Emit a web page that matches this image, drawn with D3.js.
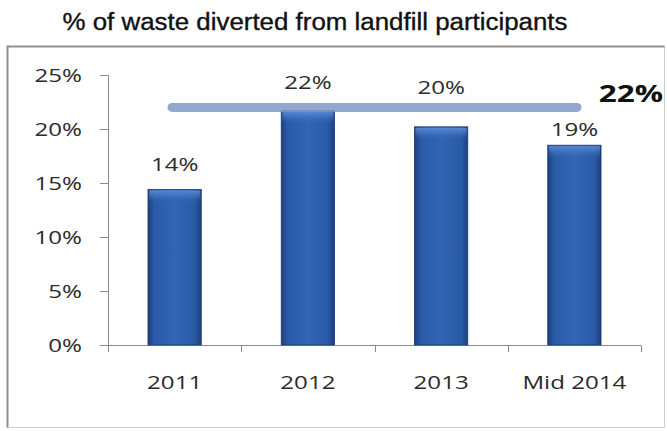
<!DOCTYPE html>
<html>
<head>
<meta charset="utf-8">
<script src="https://cdn.jsdelivr.net/npm/d3@7"></script>
<style>
  html, body { margin: 0; padding: 0; background: #ffffff; }
  svg { display: block; }
</style>
</head>
<body>
<svg id="chart" width="667" height="431"></svg>
<script>
// ---- data ----
const title = "% of waste diverted from landfill participants";
const categories = ["2011", "2012", "2013", "Mid 2014"];
const values = [14.4, 21.7, 20.2, 18.5];
const valueLabels = ["14%", "22%", "20%", "19%"];
const yTicks = [0, 5, 10, 15, 20, 25];
const averageValue = 22;
const averageLabel = "22%";

// ---- styling (not data) ----
const labelGap = [18, 22, 33, 9]; // px between bar top and label baseline
const stretch = 1.34;             // horizontal stretch of the source image's text
const font = "'Open Sans', sans-serif";
const textColor = "#2b2b2b";

const svg = d3.select("#chart");
const W = 667, H = 431;
svg.append("rect").attr("width", W).attr("height", H).attr("fill", "#fff");

const defs = svg.append("defs");
const g1 = defs.append("linearGradient").attr("id", "barGrad").attr("x1", 0).attr("x2", 1).attr("y1", 0).attr("y2", 0);
g1.append("stop").attr("offset", "0%").attr("stop-color", "#1c3f7c");
g1.append("stop").attr("offset", "12%").attr("stop-color", "#2a5aa6");
g1.append("stop").attr("offset", "50%").attr("stop-color", "#3066b5");
g1.append("stop").attr("offset", "88%").attr("stop-color", "#2a5aa6");
g1.append("stop").attr("offset", "100%").attr("stop-color", "#1c3f7c");
const g2 = defs.append("linearGradient").attr("id", "topGrad").attr("x1", 0).attr("x2", 0).attr("y1", 0).attr("y2", 1);
g2.append("stop").attr("offset", "0%").attr("stop-color", "#5d8fd8").attr("stop-opacity", 0.9);
g2.append("stop").attr("offset", "100%").attr("stop-color", "#3a6fc0").attr("stop-opacity", 0);

// frame
svg.append("rect").attr("x", 7.5).attr("y", 46.5).attr("width", 657).attr("height", 381)
  .attr("fill", "#fff").attr("stroke", "#cfcfcf").attr("stroke-width", 1);
svg.append("path").attr("d", "M7.5,427.5 V46.5 H664.5")
  .attr("fill", "none").attr("stroke", "#8f8f8f").attr("stroke-width", 2);

// title
svg.append("text").attr("x", 315).attr("y", 30).attr("text-anchor", "middle")
  .attr("font-family", "'Liberation Sans', Arial, sans-serif").attr("font-size", 23)
  .attr("textLength", 505).attr("lengthAdjust", "spacingAndGlyphs")
  .attr("fill", "#111").attr("stroke", "#111").attr("stroke-width", 0.35).text(title);

// scales
const x = d3.scaleBand().domain(categories).range([108, 641]).paddingInner(0.6).paddingOuter(0.3);
const y = d3.scaleLinear().domain([0, 25]).range([345, 75]);

function stretchedText(sel, tx, ty, anchor) {
  return sel.append("text")
    .attr("transform", `translate(${tx},${ty}) scale(${stretch},1)`)
    .attr("text-anchor", anchor)
    .attr("font-family", font);
}

// y axis
const yAxis = svg.append("g");
yAxis.append("line").attr("x1", 108.5).attr("x2", 108.5).attr("y1", y(25)).attr("y2", y(0))
  .attr("stroke", "#8a8a8a");
yTicks.forEach(t => {
  yAxis.append("line").attr("x1", 100).attr("x2", 108.5).attr("y1", Math.round(y(t)) + 0.5).attr("y2", Math.round(y(t)) + 0.5)
    .attr("stroke", "#8a8a8a");
  stretchedText(yAxis, 82, y(t) + 6.5, "end").attr("font-size", 18).attr("fill", textColor).text(t + "%");
});

// x axis
const xAxis = svg.append("g");
xAxis.append("line").attr("x1", x.range()[0]).attr("x2", x.range()[1]).attr("y1", 345.5).attr("y2", 345.5)
  .attr("stroke", "#8a8a8a");
d3.range(categories.length + 1).forEach(i => {
  const xx = Math.round(x.range()[0] + i * x.step()) + 0.5;
  xAxis.append("line").attr("x1", xx).attr("x2", xx).attr("y1", 345.5).attr("y2", 352).attr("stroke", "#8a8a8a");
});
categories.forEach(c => {
  stretchedText(xAxis, x(c) + x.bandwidth() / 2, 389, "middle").attr("font-size", 18).attr("fill", textColor).text(c);
});

// bars
const bars = svg.append("g");
categories.forEach((c, i) => {
  const bx = x(c), bw = x.bandwidth(), by = y(values[i]), bh = y(0) - y(values[i]);
  bars.append("rect").attr("x", bx).attr("y", by).attr("width", bw).attr("height", bh)
    .attr("fill", "url(#barGrad)").attr("stroke", "#1b3a70").attr("stroke-width", 0.8);
  bars.append("rect").attr("x", bx + 1).attr("y", by + 1).attr("width", bw - 2).attr("height", Math.min(12, bh))
    .attr("fill", "url(#topGrad)");
});

// average line
svg.append("line").attr("x1", 172).attr("x2", 577).attr("y1", y(averageValue)).attr("y2", y(averageValue))
  .attr("stroke", "#7e98c6").attr("stroke-opacity", 0.85).attr("stroke-width", 9).attr("stroke-linecap", "round");

// value labels
categories.forEach((c, i) => {
  stretchedText(svg, x(c) + x.bandwidth() / 2, y(values[i]) - labelGap[i], "middle")
    .attr("font-size", 18).attr("fill", textColor).text(valueLabels[i]);
});

// average label
stretchedText(svg, 663, 102, "end").attr("font-size", 23.5).attr("font-weight", "bold")
  .attr("fill", "#111").text(averageLabel);
</script>
</body>
</html>
